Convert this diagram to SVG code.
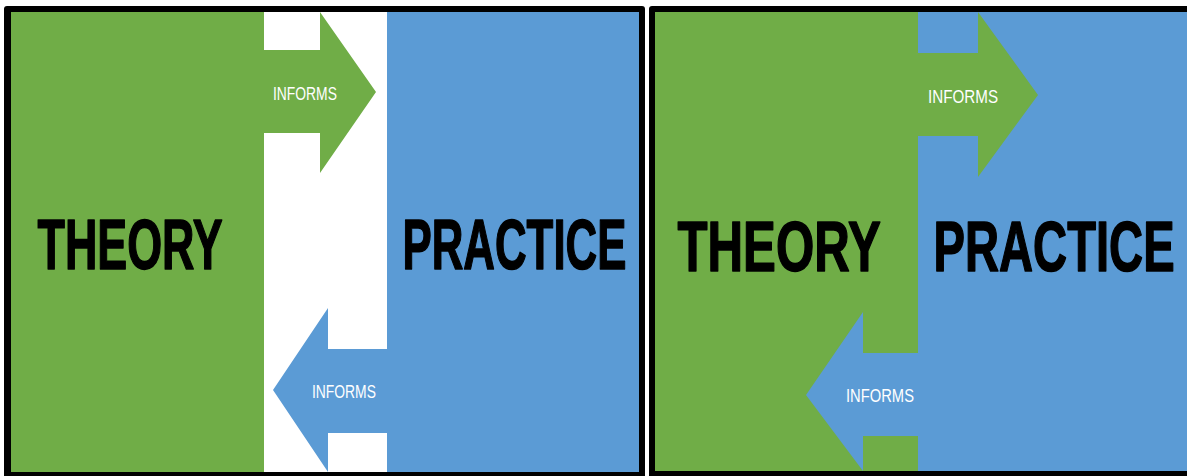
<svg xmlns="http://www.w3.org/2000/svg" width="1187" height="476" viewBox="0 0 1187 476">
<style>
.frame{fill:#000}
.green{fill:#70AD47}
.blue{fill:#5B9BD5}
.white{fill:#FFFFFF}
.big{font-family:"Liberation Sans",Arial,sans-serif;font-weight:bold;font-size:70px;fill:#000;stroke:#000;stroke-width:1.5;stroke-linejoin:round}
.lbl{font-family:"Liberation Sans",Arial,sans-serif;font-size:19px;fill:#FFFFFF}
</style>
<rect x="0" y="0" width="1187" height="476" fill="#FFFFFF"/>
<g id="panel-left">
  <rect class="frame" x="4" y="6" width="641" height="472" rx="3"/>
  <rect class="white" x="11" y="12" width="628" height="460"/>
  <rect class="green" x="11" y="12" width="253" height="460"/>
  <rect class="blue" x="387" y="12" width="252" height="460"/>
</g>
<g id="panel-right">
  <rect class="frame" x="649" y="6" width="545" height="472" rx="3"/>
  <rect class="green" x="655" y="12" width="263" height="459"/>
  <rect class="blue" x="918" y="12" width="269" height="459"/>
</g>
<g id="connectors">
  <g id="arrow-left-top">
    <polygon class="green" points="263,50 320,50 320,12 376,92 320,173 320,133 263,133"/>
    <text class="lbl" transform="translate(273,100) scale(0.73,1)">INFORMS</text>
  </g>
  <g id="arrow-left-bottom">
    <polygon class="blue" points="388,349 328,349 328,308 273,390 328,472 328,433 388,433"/>
    <text class="lbl" transform="translate(312,398) scale(0.73,1)">INFORMS</text>
  </g>
  <g id="arrow-right-top">
    <polygon class="green" points="917,53 978,53 978,12 1038,95 978,177 978,136 917,136"/>
    <text class="lbl" transform="translate(928,103) scale(0.8,1)">INFORMS</text>
  </g>
  <g id="arrow-right-bottom">
    <polygon class="blue" points="919,353 863,353 863,312 806,395 863,471 919,471"/>
    <rect class="green" x="863" y="436" width="55" height="35"/>
    <text class="lbl" transform="translate(846,402) scale(0.776,1)">INFORMS</text>
  </g>
</g>
<g id="theory-left">
  <text class="big" transform="translate(37.5,269.3) scale(0.641,1)">THEORY</text>
</g>
<g id="practice-left">
  <text class="big" transform="translate(402.5,269.3) scale(0.626,1)">PRACTICE</text>
</g>
<g id="theory-right">
  <text class="big" transform="translate(677.5,271.3) scale(0.703,1)">THEORY</text>
</g>
<g id="practice-right">
  <text class="big" transform="translate(933.5,271.3) scale(0.674,1)">PRACTICE</text>
</g>
</svg>
